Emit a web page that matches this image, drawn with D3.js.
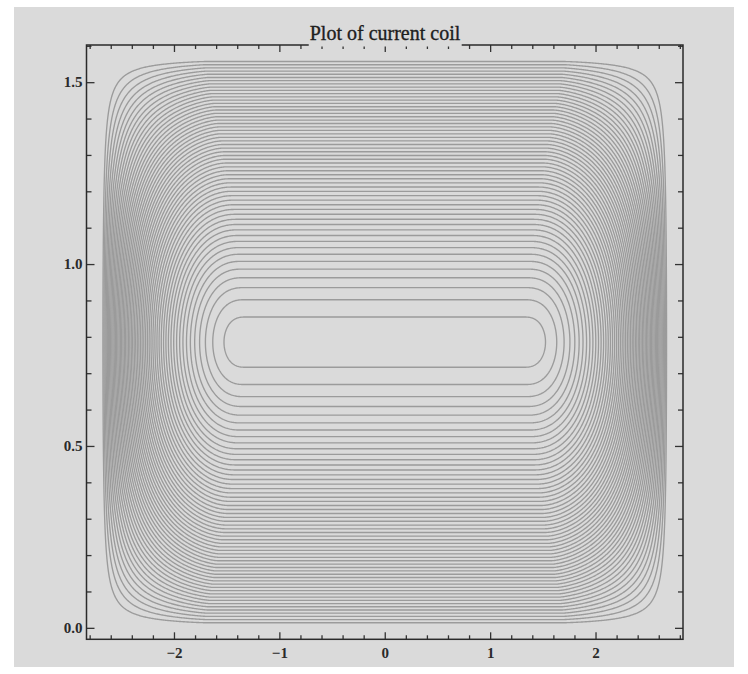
<!DOCTYPE html>
<html>
<head>
<meta charset="utf-8">
<script src="https://cdn.jsdelivr.net/npm/d3@7"></script>
<style>
  body { margin: 0; background: #ffffff; }
  svg { display: block; }
  .tick text { font-family: "Liberation Serif", "DejaVu Serif", serif; font-size: 15px; font-weight: bold; fill: #2a2a2a; }
</style>
</head>
<body>
<svg id="chart" width="748" height="674"></svg>
<script>
// contour levels (field normalised to 1 at the middle of the coil)
const levels = [
  0.9905, 0.9730, 0.9555, 0.9380, 0.9205, 0.9030, 0.8855, 0.8680, 0.8505, 0.8330,
  0.8155, 0.7980, 0.7805, 0.7630, 0.7455, 0.7280, 0.7105, 0.6930, 0.6755, 0.6580,
  0.6405, 0.6230, 0.6055, 0.5880, 0.5705, 0.5530, 0.5355, 0.5180, 0.5005, 0.4830,
  0.4655, 0.4480, 0.4305, 0.4130, 0.3955, 0.3780, 0.3605, 0.3430, 0.3255, 0.3080,
  0.2905, 0.2730, 0.2555, 0.2380, 0.2205, 0.2030, 0.1855, 0.1680, 0.1505, 0.1330,
  0.1155, 0.0980, 0.0805, 0.0630, 0.0455, 0.0280
];

// plot region of the field
const xRange = [-2.72, 2.72];
const yRange = [0, Math.PI / 2];
// coil: flat in the middle, falls to zero at wallX
const coilEnd = 1.72;    // end of winding (near the walls)
const coilFlat = 1.33;   // start of fall-off on the mid line
const wallX = 2.69;

// ticks
const xMajor = [-2, -1, 0, 1, 2];
const xLabels = ["\u22122", "\u22121", "0", "1", "2"];
const yMajor = [0, 0.5, 1.0, 1.5];
const yLabels = ["0.0", "0.5", "1.0", "1.5"];

const title = "Plot of current coil";
const bg = "#dadada";

const svg = d3.select("#chart");

// grey panel
svg.append("rect")
  .attr("x", 14).attr("y", 7)
  .attr("width", 720).attr("height", 660)
  .attr("fill", bg);

const xDom = [-2.83, 2.83], yDom = [-0.0315, 1.6022];
const x = d3.scaleLinear().domain(xDom).range([86.5, 683]);
const y = d3.scaleLinear().domain(yDom).range([639.3, 45]);

// field on a grid
function field(px, py) {
  let e = Math.sin(2 * py);
  let x0 = coilEnd - (coilEnd - coilFlat) * e;
  let p = 1.1 + 1.3 * e;
  let t = (Math.abs(px) - x0) / (wallX - x0);
  t = Math.max(0, Math.min(1, t));
  return e * (1 - Math.pow(t, p));
}

const nx = 600, ny = 600;
const stepX = (xRange[1] - xRange[0]) / (nx - 1);
const stepY = (yRange[1] - yRange[0]) / (ny - 1);
const values = new Array(nx * ny);
for (let j = 0; j < ny; j++) {
  for (let i = 0; i < nx; i++) {
    values[j * nx + i] = field(xRange[0] + i * stepX, yRange[0] + j * stepY);
  }
}

const contours = d3.contours().size([nx, ny]).thresholds(levels)(values);

// grid coordinates -> screen
const proj = d3.geoTransform({
  point: function(gx, gy) {
    this.stream.point(x(xRange[0] + (gx - 0.5) * stepX), y(yRange[0] + (gy - 0.5) * stepY));
  }
});
const path = d3.geoPath(proj);

svg.append("clipPath").attr("id", "plotclip")
  .append("rect")
  .attr("x", x(xDom[0])).attr("y", y(yDom[1]))
  .attr("width", x(xDom[1]) - x(xDom[0])).attr("height", y(yDom[0]) - y(yDom[1]));

svg.append("g")
  .attr("clip-path", "url(#plotclip)")
  .selectAll("path")
  .data(contours)
  .join("path")
  .attr("d", path)
  .attr("fill", "none")
  .attr("stroke", "#9b9b9b")
  .attr("stroke-width", 1.35)
  .attr("stroke-linejoin", "round");

// axes, ticks pointing inward
const minorX = d3.range(-2.8, 2.81, 0.2).filter(v => Math.abs(v - Math.round(v)) > 0.01);
const minorY = d3.range(0, 1.61, 0.1).filter(v => Math.abs(v * 2 - Math.round(v * 2)) > 0.01);

function drawAxis(axis, tf, vals, size, labels, pad) {
  let a = axis.tickValues(vals).tickSizeInner(-size).tickSizeOuter(0).tickPadding(pad);
  a = labels ? a.tickFormat((d, i) => labels[i]) : a.tickFormat("");
  const g = svg.append("g").attr("transform", tf).call(a);
  g.select(".domain").remove();
  g.selectAll(".tick line").attr("stroke", "#333").attr("stroke-width", 1.3);
  return g;
}

const bottomY = y(yDom[0]), topY = y(yDom[1]);
const leftX = x(xDom[0]), rightX = x(xDom[1]);

drawAxis(d3.axisBottom(x), "translate(0," + bottomY + ")", xMajor, 7, xLabels, 8);
drawAxis(d3.axisBottom(x), "translate(0," + bottomY + ")", minorX, 4, null, 8);
drawAxis(d3.axisTop(x), "translate(0," + topY + ")", xMajor, 7, null, 8);
drawAxis(d3.axisTop(x), "translate(0," + topY + ")", minorX, 4, null, 8);
drawAxis(d3.axisLeft(y), "translate(" + leftX + ",0)", yMajor, 8, yLabels, 4);
drawAxis(d3.axisLeft(y), "translate(" + leftX + ",0)", minorY, 5, null, 4);
drawAxis(d3.axisRight(y), "translate(" + rightX + ",0)", yMajor, 8, null, 4);
drawAxis(d3.axisRight(y), "translate(" + rightX + ",0)", minorY, 5, null, 4);

// frame
svg.append("rect")
  .attr("x", leftX).attr("y", topY)
  .attr("width", rightX - leftX).attr("height", bottomY - topY)
  .attr("fill", "none")
  .attr("stroke", "#2a2a2a")
  .attr("stroke-width", 1.5);

// title, its box sits over the top frame line
const titleG = svg.append("g");
const titleBox = titleG.append("rect").attr("fill", bg);
const tt = titleG.append("text")
  .attr("x", 385).attr("y", 40)
  .attr("text-anchor", "middle")
  .attr("font-family", "Liberation Serif, DejaVu Serif, serif")
  .attr("font-size", 20)
  .attr("fill", "#1e1e1e")
  .attr("stroke", "#1e1e1e")
  .attr("stroke-width", 0.35)
  .text(title);
const bb = tt.node().getBBox();
titleBox
  .attr("x", bb.x - 1).attr("y", bb.y)
  .attr("width", bb.width + 2).attr("height", topY + 1.5 - bb.y);
</script>
</body>
</html>
